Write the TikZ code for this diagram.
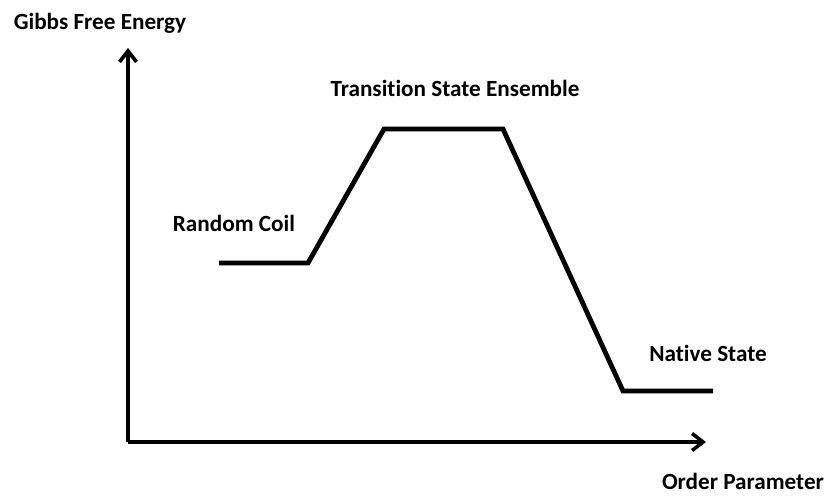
\documentclass[tikz,border=0pt]{standalone}
\usepackage{fontspec}
\setmainfont{Carlito}[Ligatures=NoCommon]
\usetikzlibrary{arrows.meta}
\tikzset{
  axis/.style={line width=3.6pt,-{Straight Barb[length=11pt,width=17pt,line width=3.6pt]}},
  level/.style={line width=4.8pt,line join=miter},
  lbl/.style={font=\fontsize{23.2}{26}\selectfont\bfseries,inner sep=0pt}
}
\begin{document}
\begin{tikzpicture}[x=1pt,y=-1pt]
  \useasboundingbox (0,0) rectangle (835,497);
  % axes
  \coordinate (origin) at (128,442);
  \coordinate (ytip) at (128,48);
  \coordinate (xtip) at (706,442);
  \draw[axis] (origin) -- (ytip);
  \draw[axis] (origin) -- (xtip);
  % energy profile
  \coordinate (rc1) at (219,263);
  \coordinate (rc2) at (308,263);
  \coordinate (ts1) at (384,129);
  \coordinate (ts2) at (503,129);
  \coordinate (ns1) at (623,391);
  \coordinate (ns2) at (713,391);
  \draw[level] (rc1) -- (rc2) -- (ts1) -- (ts2) -- (ns1) -- (ns2);
  % labels
  \node[lbl] (gibbs) at (100,23) {Gibbs Free Energy};
  \node[lbl] (order) at (743,481) {Order Parameter};
  \node[lbl] (coil) at (234,223) {Random Coil};
  \node[lbl] (tse) at (455,88) {Transition State Ensemble};
  \node[lbl] (native) at (708,353) {Native State};
\end{tikzpicture}
\end{document}
